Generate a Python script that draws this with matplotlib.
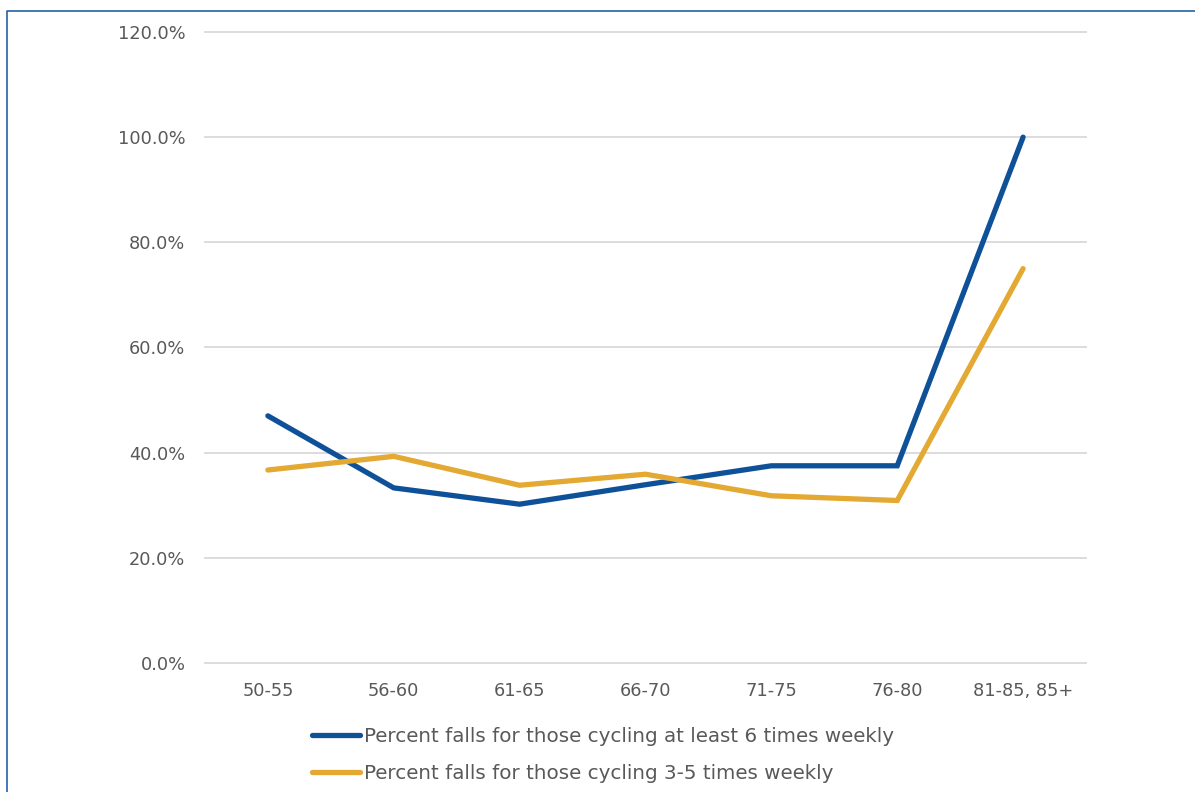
import matplotlib.pyplot as plt
from matplotlib.lines import Line2D
from matplotlib.ticker import FuncFormatter

ages = ['50-55', '56-60', '61-65', '66-70', '71-75', '76-80', '81-85, 85+']
six_plus = [47.0, 33.3, 30.2, 33.9, 37.5, 37.5, 100.0]
three_five = [36.7, 39.3, 33.8, 35.9, 31.8, 30.9, 75.0]
labels = ['Percent falls for those cycling at least 6 times weekly',
          'Percent falls for those cycling 3-5 times weekly']

plt.rcParams['font.family'] = ['DejaVu Sans']
grey = '#595959'

fig = plt.figure(figsize=(11.95, 7.92), dpi=100)
ax = fig.add_axes([0.1715, 0.1629, 0.9088 - 0.1715, 0.9596 - 0.1629])

x = range(len(ages))
l1, = ax.plot(x, six_plus, color='#0F5199', lw=3.8, solid_capstyle='round', solid_joinstyle='miter')
l2, = ax.plot(x, three_five, color='#E3A932', lw=3.8, solid_capstyle='round', solid_joinstyle='miter')

ax.set_xlim(-0.5, len(ages) - 0.5)
ax.set_ylim(0, 120)
ax.set_yticks(range(0, 121, 20))
ax.yaxis.set_major_formatter(FuncFormatter(lambda v, p: '%.1f%%' % v))
ax.set_xticks(list(x))
ax.set_xticklabels(ages)
ax.grid(axis='y', color='#d9d9d9', lw=1.3)
for g in ax.get_ygridlines():
    g.set_clip_on(False)
ax.set_axisbelow(True)
for s in ax.spines.values():
    s.set_visible(False)
ax.tick_params(length=0, labelsize=12.8, colors=grey)
ax.tick_params(axis='x', pad=14)
ax.tick_params(axis='y', pad=14)

fig.legend([l1, l2], labels, loc='upper left', bbox_to_anchor=(0.261, 0.082), frameon=False,
           fontsize=14.3, labelcolor=grey, handlelength=2.4, handletextpad=0.2, labelspacing=0.9,
           borderaxespad=0, borderpad=0)

# blue frame on the left and top
fig.add_artist(Line2D([0.0059, 0.0059, 1.0], [0.0, 0.9861, 0.9861], color='#2462A8', lw=1.2,
                      transform=fig.transFigure))

fig.savefig('out.png', dpi=100)
